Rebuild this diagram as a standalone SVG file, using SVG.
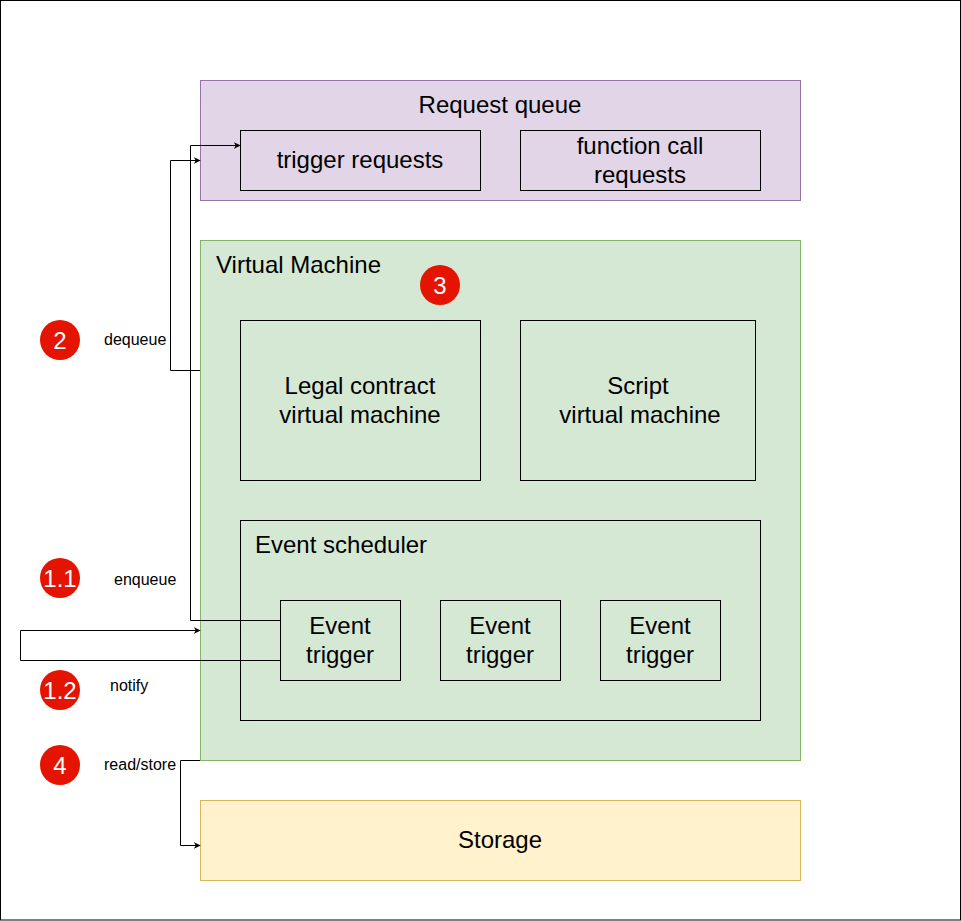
<svg xmlns="http://www.w3.org/2000/svg" width="961" height="921" viewBox="0 0 961 921">
<style>
text{font-family:"Liberation Sans",Arial,sans-serif;fill:#000}
.t20{font-size:24px}
.t12{font-size:16px}
.inner{fill:none;stroke:#000;stroke-width:1}
.badge{fill:#e51400}
.bt{font-size:24px;fill:#fff;text-anchor:middle}
.c{text-anchor:middle}
.conn{fill:none;stroke:#000;stroke-width:1}
</style>
<defs>
<marker id="arr" viewBox="0 0 10 10" refX="9" refY="5" markerWidth="7" markerHeight="7" markerUnits="userSpaceOnUse" orient="auto">
<path d="M0,0 L10,5 L0,10 L3,5 Z" fill="#000"/>
</marker>
</defs>
<rect x="0" y="0" width="961" height="921" fill="#fff"/>
<rect x="0.5" y="0.5" width="960" height="919.5" fill="none" stroke="#000"/>

<g id="request-queue">
<rect x="200.5" y="80.5" width="600" height="120" fill="#e1d5e7" stroke="#9673a6"/>
<text class="t20 c" x="500" y="113">Request queue</text>
</g>
<g id="trigger-requests">
<rect class="inner" x="240.5" y="130.5" width="240" height="60"/>
<text class="t20 c" x="360" y="168">trigger requests</text>
</g>
<g id="function-call-requests">
<rect class="inner" x="520.5" y="130.5" width="240" height="60"/>
<text class="t20 c" x="640" y="154">function call</text>
<text class="t20 c" x="640" y="183">requests</text>
</g>

<g id="virtual-machine">
<rect x="200.5" y="240.5" width="600" height="520" fill="#d5e8d4" stroke="#82b366"/>
<text class="t20" x="216" y="273">Virtual Machine</text>
</g>
<g id="badge-3">
<circle class="badge" cx="440" cy="285" r="20"/>
<text class="bt" x="440" y="293.5">3</text>
</g>
<g id="legal-contract-vm">
<rect class="inner" x="240.5" y="320.5" width="240" height="160"/>
<text class="t20 c" x="360" y="394">Legal contract</text>
<text class="t20 c" x="360" y="423">virtual machine</text>
</g>
<g id="script-vm">
<rect class="inner" x="520.5" y="320.5" width="235" height="160"/>
<text class="t20 c" x="638" y="394">Script</text>
<text class="t20 c" x="640" y="423">virtual machine</text>
</g>
<g id="event-scheduler">
<rect class="inner" x="240.5" y="520.5" width="520" height="200"/>
<text class="t20" x="255" y="553">Event scheduler</text>
</g>
<g id="event-trigger-1">
<rect class="inner" x="280.5" y="600.5" width="120" height="80"/>
<text class="t20 c" x="340" y="634">Event</text>
<text class="t20 c" x="340" y="663">trigger</text>
</g>
<g id="event-trigger-2">
<rect class="inner" x="440.5" y="600.5" width="120" height="80"/>
<text class="t20 c" x="500" y="634">Event</text>
<text class="t20 c" x="500" y="663">trigger</text>
</g>
<g id="event-trigger-3">
<rect class="inner" x="600.5" y="600.5" width="120" height="80"/>
<text class="t20 c" x="660" y="634">Event</text>
<text class="t20 c" x="660" y="663">trigger</text>
</g>

<g id="storage">
<rect x="200.5" y="800.5" width="600" height="80" fill="#fff2cc" stroke="#d6b656"/>
<text class="t20 c" x="500" y="848">Storage</text>
</g>

<g id="badge-2">
<circle class="badge" cx="60" cy="340" r="20"/>
<text class="bt" x="60" y="348.5">2</text>
</g>
<g id="badge-1-1">
<circle class="badge" cx="60" cy="578" r="20"/>
<text class="bt" x="60" y="586.5">1.1</text>
</g>
<g id="badge-1-2">
<circle class="badge" cx="60" cy="690" r="20"/>
<text class="bt" x="60" y="698.5">1.2</text>
</g>
<g id="badge-4">
<circle class="badge" cx="60" cy="765" r="20"/>
<text class="bt" x="60" y="773.5">4</text>
</g>

<g id="connectors">
<polyline class="conn" points="200,370.5 170.5,370.5 170.5,160.5 200,160.5" marker-end="url(#arr)"/>
<polyline class="conn" points="280,620.5 190.5,620.5 190.5,145.5 240,145.5" marker-end="url(#arr)"/>
<polyline class="conn" points="280,660.5 20.5,660.5 20.5,630.5 200,630.5" marker-end="url(#arr)"/>
<polyline class="conn" points="200,760.5 180.5,760.5 180.5,845.5 200,845.5" marker-end="url(#arr)"/>
<text class="t12" x="104" y="345">dequeue</text>
<text class="t12" x="114" y="585">enqueue</text>
<text class="t12" x="110" y="691">notify</text>
<text class="t12" x="104" y="770">read/store</text>
</g>
</svg>
